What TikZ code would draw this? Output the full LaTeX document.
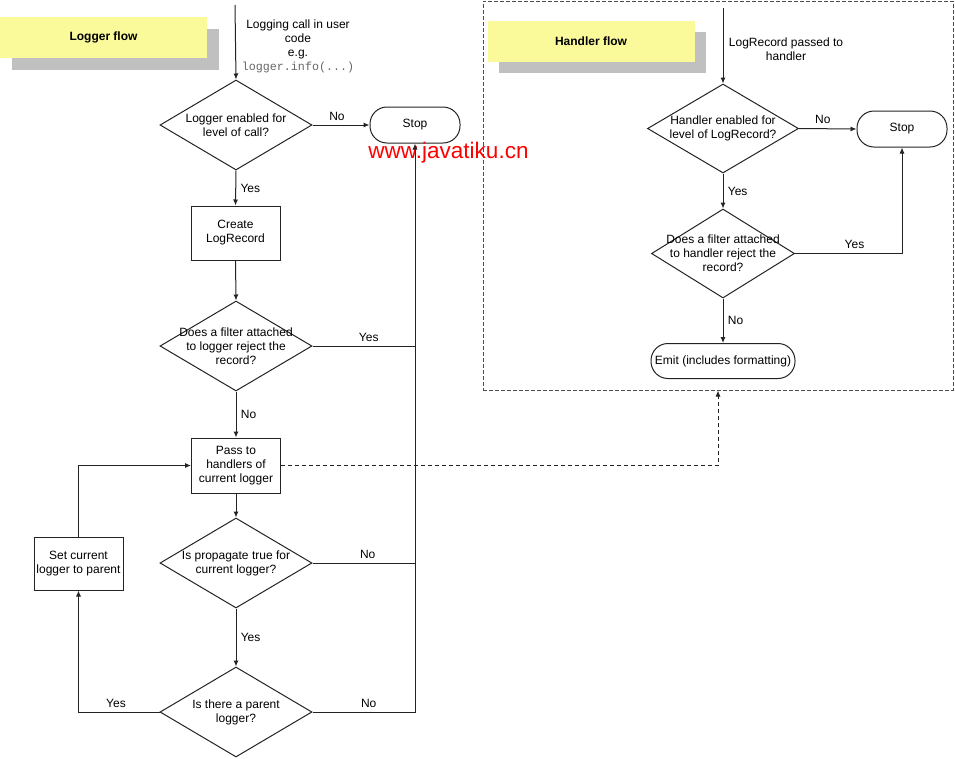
\documentclass[tikz,border=0pt]{standalone}
\usepackage{fontspec}
\setmainfont{Liberation Sans}
\setmonofont{Liberation Mono}
\usetikzlibrary{shapes.geometric, arrows.meta}

\definecolor{banneryellow}{RGB}{250,250,155}
\definecolor{shadowgray}{RGB}{192,192,192}
\definecolor{linegray}{RGB}{35,35,35}

\tikzset{
  decision/.style={draw=linegray, line width=1pt, diamond, inner sep=0pt, minimum width=152pt, minimum height=90pt},
  dtext/.style={align=center, inner sep=0pt},
  process/.style={draw=linegray, line width=1pt, rectangle, align=center, minimum width=89pt, minimum height=54pt, inner sep=1pt},
  terminal/.style={draw=linegray, line width=1pt, rectangle, rounded corners=17pt, minimum width=90pt, minimum height=36pt},
  banner/.style={fill=banneryellow, minimum width=207pt, minimum height=41pt, font=\fontsize{12}{14}\bfseries},
  bshadow/.style={fill=shadowgray, minimum width=207pt, minimum height=41pt},
  flow/.style={->, >={Latex[length=6pt, width=5pt]}, draw=linegray, line width=1pt},
  conn/.style={draw=linegray, line width=1pt}
}

\begin{document}
\begin{tikzpicture}[x=1pt, y=-1pt, font=\fontsize{12}{14}\selectfont]
  \useasboundingbox (0,0) rectangle (955,758);

  % banners
  \node[bshadow] (lshadow) at (115,49) {};
  \node[banner] (lbanner) at (103.5,37.5) {Logger flow};
  \node[bshadow] (hshadow) at (602.5,52.5) {};
  \node[banner] (hbanner) at (591,41.5) {Handler flow};

  % handler frame
  \node[draw=black!70, dash pattern=on 4pt off 2pt, line width=1pt, minimum width=470pt, minimum height=389pt] (hframe) at (718,195.5) {};

  % logger flow
  \coordinate (lin) at (235,5);
  \node[align=center] (lintext) at (298,46) {Logging call in user\\code\\e.g.\\{\fontsize{11.7}{14}\ttfamily\color{black!60}logger.info(...)}};
  \node[decision, label={[dtext]center:Logger enabled for\\level of call?}] (d1) at (236,125) {};
  \node[terminal] (stop1) at (415,125) {Stop};
  \node[process] (create) at (235.5,233) {Create\\LogRecord};
  \node[decision, label={[dtext]center:Does a filter attached\\to logger reject the\\record?}] (d2) at (236,346) {};
  \node[process, minimum height=55pt] (pass) at (236,465.5) {Pass to\\handlers of\\current logger};
  \node[decision, label={[dtext]center:Is propagate true for\\current logger?}] (d3) at (236,563) {};
  \node[decision, label={[dtext]center:Is there a parent\\logger?}] (d4) at (236,712) {};
  \node[process, minimum height=53pt] (setp) at (78.5,563.5) {Set current\\logger to parent};
  \node[text=red, font=\fontsize{22.5}{26}\selectfont] (wm) at (448.5,153) {www.javatiku.cn};

  \draw[flow] (lin) -- (d1.north);
  \draw[flow] (d1.east) -- node[above=1pt, xshift=-4pt] {No} (stop1.west);
  \draw[flow] (d1.south) -- node[right=1pt] {Yes} (create.north);
  \draw[flow] (create.south) -- (d2.north);
  \draw[conn] (d2.east) -- node[above=1pt, xshift=5pt] {Yes} (d2.east -| stop1.south);
  \draw[flow] (d2.south) -- node[right=1pt] {No} (pass.north);
  \draw[flow] (pass.south) -- (d3.north);
  \draw[conn] (d3.east) -- node[above=1pt, xshift=4pt] {No} (d3.east -| stop1.south);
  \draw[flow] (d3.south) -- node[right=1pt] {Yes} (d4.north);
  \draw[flow] (d4.east) -- node[above=1pt, xshift=5pt] {No} (d4.east -| stop1.south) -- (stop1.south);
  \draw[flow] (d4.west) -| node[pos=0.25, above=1pt, xshift=-3pt] {Yes} (setp.south);
  \draw[flow] (setp.north) |- (pass.west);
  \draw[flow, dash pattern=on 4pt off 3pt] (pass.east) -| (hframe.south);

  % handler flow
  \coordinate (rin) at (723,8);
  \node[align=center] (rintext) at (786,49.5) {LogRecord passed to\\handler};
  \node[decision, minimum width=151pt, minimum height=89pt, label={[dtext]center:Handler enabled for\\level of LogRecord?}] (h1) at (723,128.5) {};
  \node[terminal] (stopr) at (902,129) {Stop};
  \node[decision, minimum width=143pt, minimum height=89pt, label={[dtext]center:Does a filter attached\\to handler reject the\\record?}] (h2) at (723,253.5) {};
  \node[terminal, minimum width=144pt, minimum height=35pt] (emit) at (723,361) {Emit (includes formatting)};

  \draw[flow] (rin) -- (h1.north);
  \draw[flow] (h1.east) -- node[above=1pt, xshift=-5pt] {No} (stopr.west);
  \draw[flow] (h1.south) -- node[right=1pt] {Yes} (h2.north);
  \draw[flow] (h2.east) -| node[pos=0.25, above=1pt, xshift=6pt] {Yes} (stopr.south);
  \draw[flow] (h2.south) -- node[right=1pt] {No} (emit.north);
\end{tikzpicture}
\end{document}
